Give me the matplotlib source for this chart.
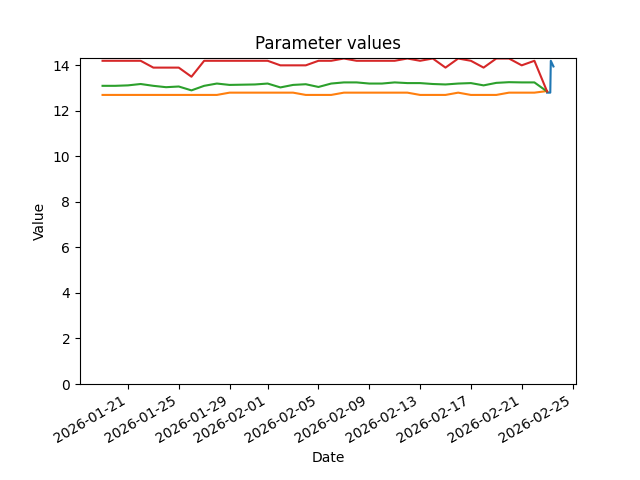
import numpy as np
import pandas as pd
import matplotlib
matplotlib.use("Agg")
from matplotlib import pyplot as plt

# daily readings, 2026-01-19 .. 2026-02-23
days = pd.date_range("2026-01-19", "2026-02-23", freq="D")

red_vals = [14.2, 14.2, 14.2, 14.2, 13.9, 13.9, 13.9, 13.5, 14.2, 14.2,
            14.2, 14.2, 14.2, 14.2, 14.0, 14.0, 14.0, 14.2, 14.2, 14.3,
            14.2, 14.2, 14.2, 14.2, 14.3, 14.2, 14.3, 13.9, 14.3, 14.2,
            13.9, 14.3, 14.3, 14.0, 14.2, 12.85]

green_vals = [13.1, 13.1, 13.12, 13.18, 13.1, 13.04, 13.07, 12.9, 13.1, 13.2,
              13.14, 13.15, 13.16, 13.2, 13.03, 13.14, 13.17, 13.05, 13.2, 13.25,
              13.25, 13.2, 13.2, 13.25, 13.22, 13.22, 13.18, 13.16, 13.2, 13.22,
              13.12, 13.23, 13.26, 13.25, 13.25, 12.85]

orange_vals = [12.7] * 10 + [12.8] * 6 + [12.7] * 3 + [12.8] * 6 + [12.7] * 3 \
    + [12.8] + [12.7] * 3 + [12.8] * 3 + [12.87]

# intraday readings on the last day
blue_times = pd.to_datetime(["2026-02-23 00:00", "2026-02-23 06:00",
                             "2026-02-23 07:00", "2026-02-23 12:00"])
blue_vals = [12.8, 12.8, 14.2, 13.95]

fig, ax = plt.subplots(figsize=(6.4, 4.8), dpi=100)
ax.plot(blue_times, blue_vals, color="C0")
ax.plot(days, orange_vals, color="C1")
ax.plot(days, green_vals, color="C2")
ax.plot(days, red_vals, color="C3")

ax.set_ylim(0, 14.34)
ax.set_title("Parameter values")
ax.set_xlabel("Date")
ax.set_ylabel("Value")
fig.autofmt_xdate()

plt.savefig("out.png")
